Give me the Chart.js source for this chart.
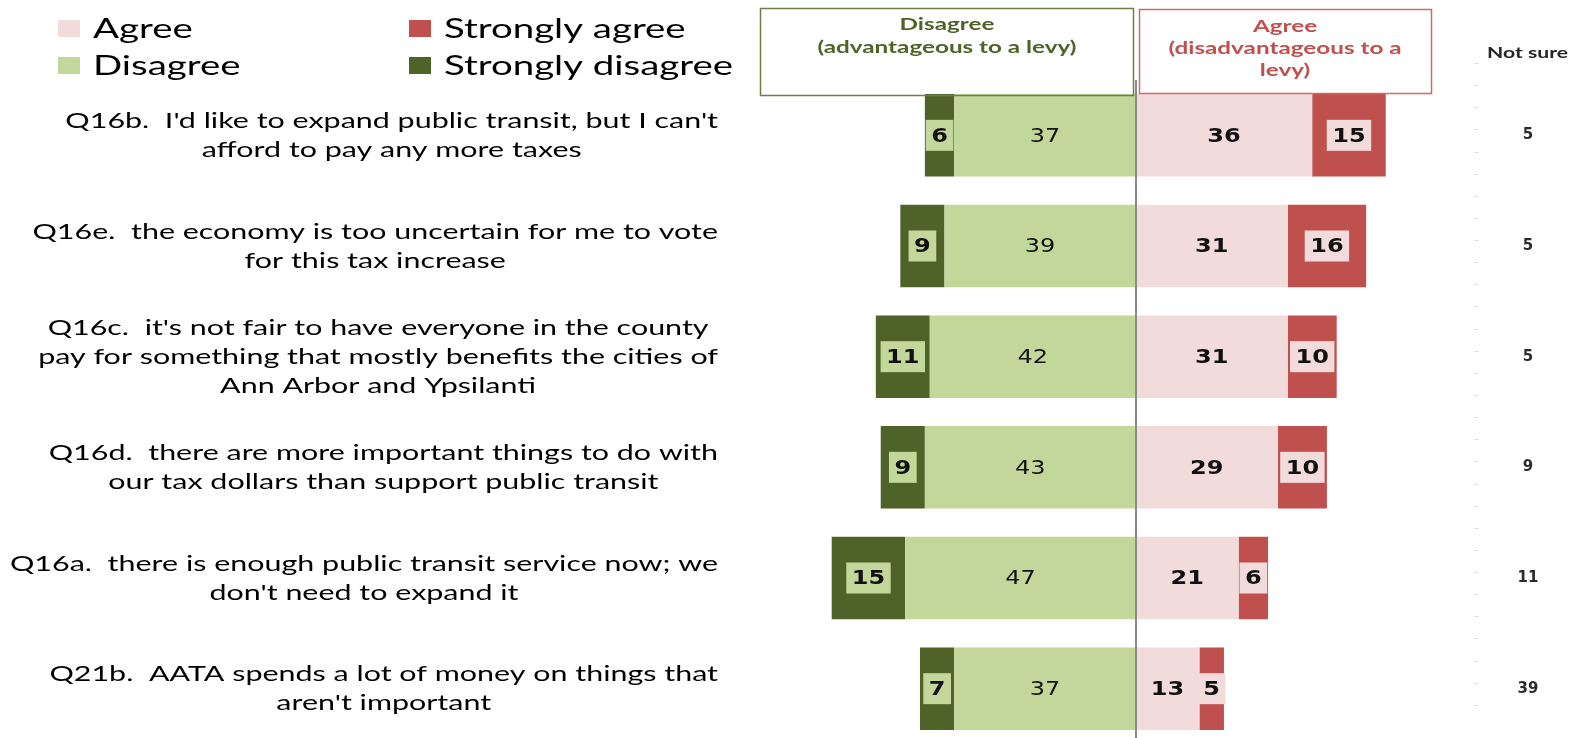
<!DOCTYPE html>
<html>
<head>
<meta charset="utf-8">
<script src="https://cdn.jsdelivr.net/npm/chart.js@4.4.0/dist/chart.umd.min.js"></script>
<style>
  html, body { margin: 0; padding: 0; background: #fff; overflow: hidden; }
  #wrap { width: 1572px; height: 750px; }
</style>
</head>
<body>
<div id="wrap"><canvas id="levy" width="1572" height="750"></canvas></div>
<script>
// survey statements, one array of wrapped lines per row
const questions = [
  ["Q16b.  I'd like to expand public transit, but I can't", "afford to pay any more taxes"],
  ["Q16e.  the economy is too uncertain for me to vote", "for this tax increase"],
  ["Q16c.  it's not fair to have everyone in the county", "pay for something that mostly benefits the cities of", "Ann Arbor and Ypsilanti"],
  ["Q16d.  there are more important things to do with", "our tax dollars than support public transit"],
  ["Q16a.  there is enough public transit service now; we", "don't need to expand it"],
  ["Q21b.  AATA spends a lot of money on things that", "aren't important"]
];
const codes = questions.map(q => q[0].split('.')[0]);

const stronglyDisagree = [6, 9, 11, 9, 15, 7];
const disagree = [37, 39, 42, 43, 47, 37];
const agree = [36, 31, 31, 29, 21, 13];
const stronglyAgree = [15, 16, 10, 10, 6, 5];
const notSure = [5, 5, 5, 9, 11, 39];

const GREEN_LIGHT = '#c4d79b';
const GREEN_DARK = '#4f6228';
const PINK = '#f2dcdb';
const RED = '#c0504d';

// draw text squeezed/stretched horizontally
function wideText(ctx, text, x, y, sx) {
  ctx.save();
  ctx.translate(x, y);
  ctx.scale(sx, 1);
  ctx.fillText(text, 0, 0);
  ctx.restore();
}
function fitScale(ctx, text, target) {
  return target / ctx.measureText(text).width;
}

// number style for each dataset: weight + optional label box
const labelStyle = [
  { weight: 'normal', box: null },
  { weight: 'bold', box: GREEN_LIGHT },
  { weight: 'bold', box: null },
  { weight: 'bold', box: PINK }
];

const decorations = {
  id: 'decorations',
  afterDatasetsDraw(chart) {
    const { ctx, chartArea } = chart;
    const x = chart.scales.x, y = chart.scales.y;

    // zero line
    const x0 = Math.round(x.getPixelForValue(0));
    ctx.save();
    ctx.strokeStyle = '#8a8a8a';
    ctx.lineWidth = 2;
    ctx.beginPath();
    ctx.moveTo(x0, chartArea.top);
    ctx.lineTo(x0, chart.height);
    ctx.stroke();

    // value labels
    ctx.textAlign = 'center';
    ctx.textBaseline = 'middle';
    chart.data.datasets.forEach((ds, i) => {
      const st = labelStyle[i];
      ctx.font = st.weight + ' 20px "DejaVu Sans"';
      chart.getDatasetMeta(i).data.forEach((bar, j) => {
        const txt = String(Math.abs(ds.data[j]));
        const cx = (bar.x + bar.base) / 2;
        const sx = 1.2;
        if (st.box) {
          const w = ctx.measureText(txt).width * sx + 11;
          ctx.fillStyle = st.box;
          ctx.fillRect(cx - w / 2, bar.y - 15.5, w, 31);
        }
        ctx.fillStyle = '#111';
        wideText(ctx, txt, cx, bar.y + 1, sx);
      });
    });

    // question labels, block right-aligned, lines centred in the block
    ctx.font = '22px Lato';
    ctx.fillStyle = '#000';
    const lsx = fitScale(ctx, questions[4][0], 708);
    questions.forEach((lines, j) => {
      const yc = y.getPixelForValue(j);
      const maxW = Math.max(...lines.map(l => ctx.measureText(l).width)) * lsx;
      const cx = 718 - maxW / 2;
      lines.forEach((l, k) => {
        wideText(ctx, l, cx, yc + (k - (lines.length - 1) / 2) * 29, lsx);
      });
    });

    // not sure column
    const step = (chartArea.bottom - chartArea.top) / codes.length / 5;
    ctx.fillStyle = '#d3d7e0';
    for (let yy = 63; yy < 712; yy += step) {
      ctx.fillRect(chartArea.right + 1, Math.round(yy), 3, 1);
    }
    ctx.font = 'bold 15px "DejaVu Sans"';
    ctx.fillStyle = '#2b2b2b';
    notSure.forEach((v, j) => {
      ctx.fillText(String(v), 1528, y.getPixelForValue(j));
    });
    ctx.font = 'bold 16px Lato';
    ctx.textAlign = 'left';
    ctx.fillStyle = '#262626';
    wideText(ctx, 'Not sure', 1487, 53, fitScale(ctx, 'Not sure', 81));

    // heading boxes
    ctx.lineWidth = 1.5;
    ctx.strokeStyle = '#6f7f4c';
    ctx.strokeRect(760.5, 8.5, 373, 87);
    ctx.strokeStyle = '#d06a6a';
    ctx.strokeRect(1139.5, 9.5, 292, 84);
    ctx.font = 'bold 17px Lato';
    ctx.textAlign = 'center';
    const hsx = fitScale(ctx, '(advantageous to a levy)', 259);
    ctx.fillStyle = GREEN_DARK;
    wideText(ctx, 'Disagree', 947, 25, hsx);
    wideText(ctx, '(advantageous to a levy)', 947, 48, hsx);
    ctx.fillStyle = RED;
    wideText(ctx, 'Agree', 1285, 27, hsx);
    wideText(ctx, '(disadvantageous to a', 1285, 49, hsx);
    wideText(ctx, 'levy)', 1285, 71, hsx);

    // legend, two columns
    const order = [2, 3, 0, 1];
    ctx.font = '27px Lato';
    ctx.textAlign = 'left';
    const gsx = fitScale(ctx, 'Strongly disagree', 289);
    order.forEach((di, k) => {
      const ds = chart.data.datasets[di];
      const lx = k % 2 === 0 ? 58 : 409;
      const ly = k < 2 ? 20 : 57;
      ctx.fillStyle = ds.backgroundColor;
      ctx.fillRect(lx, ly, 22, 17);
      ctx.fillStyle = '#000';
      wideText(ctx, ds.label, lx + 35, ly + 9, gsx);
    });
    ctx.restore();
  }
};

new Chart(document.getElementById('levy'), {
  type: 'bar',
  data: {
    labels: codes,
    datasets: [
      { label: 'Disagree', data: disagree.map(v => -v), backgroundColor: GREEN_LIGHT },
      { label: 'Strongly disagree', data: stronglyDisagree.map(v => -v), backgroundColor: GREEN_DARK },
      { label: 'Agree', data: agree, backgroundColor: PINK },
      { label: 'Strongly agree', data: stronglyAgree, backgroundColor: RED }
    ]
  },
  options: {
    indexAxis: 'y',
    responsive: false,
    animation: false,
    barPercentage: 0.745,
    categoryPercentage: 1,
    layout: { padding: { left: 817, right: 98, top: 80, bottom: 6 } },
    scales: {
      x: { stacked: true, min: -65, max: 69, display: false },
      y: { stacked: true, display: false }
    },
    plugins: {
      legend: { display: false },
      tooltip: { enabled: false }
    }
  },
  plugins: [decorations]
});
</script>
</body>
</html>
